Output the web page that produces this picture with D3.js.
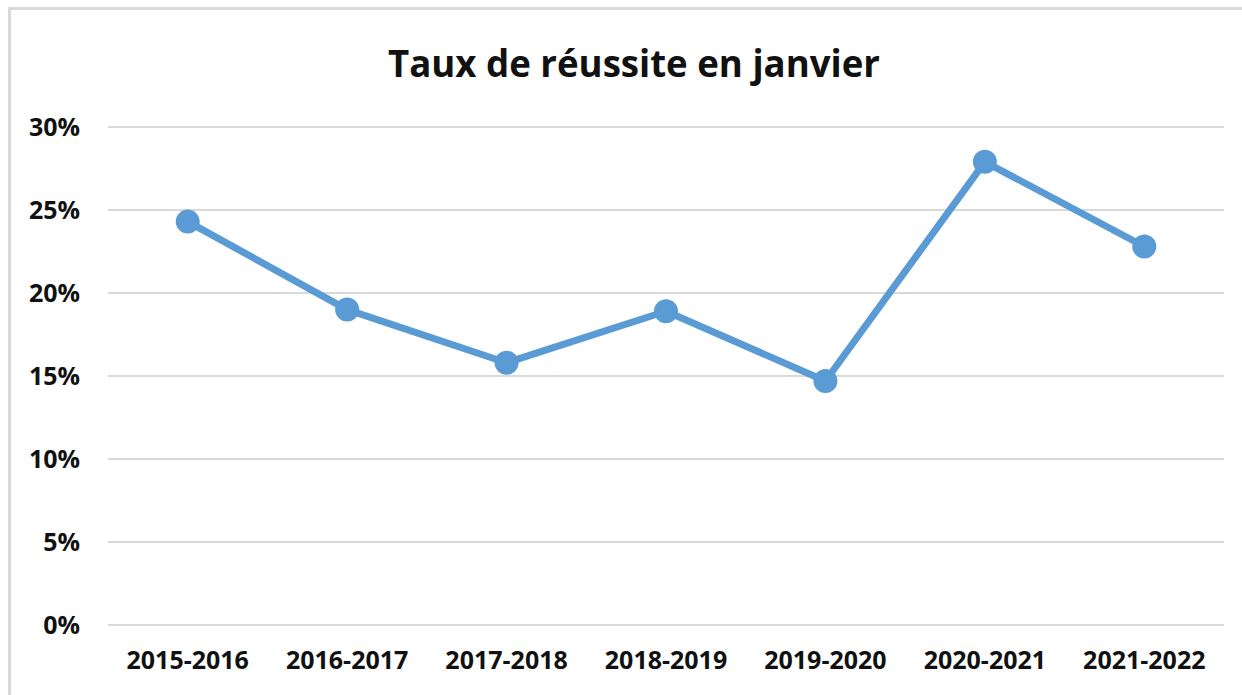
<!DOCTYPE html>
<html>
<head>
<meta charset="utf-8">
<script src="https://cdn.jsdelivr.net/npm/d3@7"></script>
<style>
  body { margin: 0; background: #fff; }
  svg { display: block; font-family: "Open Sans", "Noto Sans", sans-serif; }
</style>
</head>
<body>
<svg id="chart" width="1242" height="695"></svg>
<script>
var years = ["2015-2016", "2016-2017", "2017-2018", "2018-2019", "2019-2020", "2020-2021", "2021-2022"];
var rates = [0.243, 0.190, 0.158, 0.189, 0.147, 0.279, 0.228];
var yTicks = [0, 0.05, 0.10, 0.15, 0.20, 0.25, 0.30];
var chartTitle = "Taux de réussite en janvier";

var svg = d3.select("#chart");
var plotLeft = 108, plotRight = 1224, plotTop = 127, plotBottom = 625;

// chart frame (only top and left show in the picture)
svg.append("rect")
  .attr("x", 9.5).attr("y", 8.5).attr("width", 1240).attr("height", 700)
  .attr("fill", "none").attr("stroke", "#d9d9d9").attr("stroke-width", 3);

var x = d3.scaleBand().domain(years).range([plotLeft, plotRight]);
var y = d3.scaleLinear().domain([0, 0.30]).range([plotBottom, plotTop]);

// gridlines
svg.append("g").selectAll("line").data(yTicks).join("line")
  .attr("x1", plotLeft).attr("x2", plotRight)
  .attr("y1", function(d) { return y(d); }).attr("y2", function(d) { return y(d); })
  .attr("stroke", "#d9d9d9").attr("stroke-width", 2);

// y axis labels
var yAxis = svg.append("g").attr("transform", "translate(" + plotLeft + ",0)")
  .call(d3.axisLeft(y).tickValues(yTicks).tickFormat(d3.format(".0%")).tickSize(0).tickPadding(28));
yAxis.select(".domain").remove();
yAxis.selectAll("text").attr("font-size", 25).attr("font-weight", 700).attr("fill", "#111")
  .attr("font-family", "'Open Sans', sans-serif");

// x axis labels
var xAxis = svg.append("g").attr("transform", "translate(0," + plotBottom + ")")
  .call(d3.axisBottom(x).tickSize(0).tickPadding(26));
xAxis.select(".domain").remove();
xAxis.selectAll("text").attr("font-size", 25).attr("font-weight", 700).attr("fill", "#111")
  .attr("font-family", "'Open Sans', sans-serif");

// series line
var line = d3.line()
  .x(function(d, i) { return x(years[i]) + x.bandwidth() / 2; })
  .y(function(d) { return y(d); });

svg.append("path").datum(rates)
  .attr("d", line).attr("fill", "none")
  .attr("stroke", "#5b9bd5").attr("stroke-width", 7).attr("stroke-linejoin", "round");

svg.append("g").selectAll("circle").data(rates).join("circle")
  .attr("cx", function(d, i) { return x(years[i]) + x.bandwidth() / 2; })
  .attr("cy", function(d) { return y(d); })
  .attr("r", 12).attr("fill", "#5b9bd5");

// title
svg.append("text")
  .attr("x", 634).attr("y", 77).attr("text-anchor", "middle")
  .attr("font-size", 37).attr("font-weight", 700).attr("fill", "#111")
  .attr("textLength", 492).attr("lengthAdjust", "spacingAndGlyphs")
  .text(chartTitle);
</script>
</body>
</html>
